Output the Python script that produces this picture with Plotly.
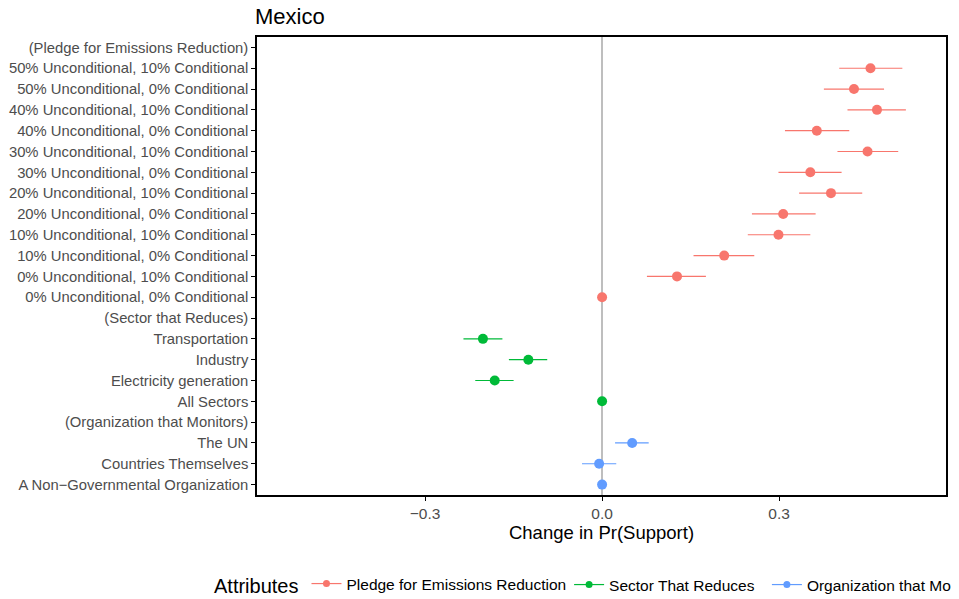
import plotly.graph_objects as go

# row labels, top to bottom
labels = [
    "(Pledge for Emissions Reduction)",
    "50% Unconditional, 10% Conditional",
    "50% Unconditional, 0% Conditional",
    "40% Unconditional, 10% Conditional",
    "40% Unconditional, 0% Conditional",
    "30% Unconditional, 10% Conditional",
    "30% Unconditional, 0% Conditional",
    "20% Unconditional, 10% Conditional",
    "20% Unconditional, 0% Conditional",
    "10% Unconditional, 10% Conditional",
    "10% Unconditional, 0% Conditional",
    "0% Unconditional, 10% Conditional",
    "0% Unconditional, 0% Conditional",
    "(Sector that Reduces)",
    "Transportation",
    "Industry",
    "Electricity generation",
    "All Sectors",
    "(Organization that Monitors)",
    "The UN",
    "Countries Themselves",
    "A Non\u2212Governmental Organization",
]

pledge_labels = labels[1:13]
pledge_est = [0.455, 0.427, 0.466, 0.364, 0.450, 0.353, 0.388, 0.307, 0.299, 0.207, 0.127, 0.0]
pledge_lo = [0.402, 0.376, 0.416, 0.310, 0.399, 0.299, 0.334, 0.254, 0.247, 0.155, 0.076, 0.0]
pledge_hi = [0.509, 0.478, 0.515, 0.419, 0.502, 0.406, 0.441, 0.362, 0.353, 0.258, 0.176, 0.0]

sector_labels = labels[14:18]
sector_est = [-0.202, -0.125, -0.182, 0.0]
sector_lo = [-0.235, -0.158, -0.215, 0.0]
sector_hi = [-0.169, -0.093, -0.150, 0.0]

org_labels = labels[19:22]
org_est = [0.051, -0.005, 0.0]
org_lo = [0.022, -0.034, 0.0]
org_hi = [0.079, 0.024, 0.0]

groups = [
    ("Pledge for Emissions Reduction", "#F8766D", pledge_labels, pledge_est, pledge_lo, pledge_hi),
    ("Sector That Reduces", "#00BA38", sector_labels, sector_est, sector_lo, sector_hi),
    ("Organization that Monitors", "#619CFF", org_labels, org_est, org_lo, org_hi),
]

FONT = "Liberation Sans, Arial, sans-serif"
# the page body adds an 8px margin, so the figure is 8px smaller each way
W, H = 951, 591

fig = go.Figure()

for name, color, ys, est, lo, hi in groups:
    fig.add_trace(go.Scatter(
        x=est, y=ys, mode="markers", name=name, showlegend=False,
        marker=dict(color=color, size=10),
        error_x=dict(type="data", symmetric=False,
                     array=[h - e for h, e in zip(hi, est)],
                     arrayminus=[e - l for e, l in zip(est, lo)],
                     color=color, thickness=1.2, width=0),
    ))

# legend keys (point with a line through it); one legend each so the row never wraps
legend_ids = ["legend", "legend2", "legend3"]
legend_x = [0.2145, 0.590, 0.798]
for (name, color, *_), lid in zip(groups, legend_ids):
    fig.add_trace(go.Scatter(
        x=[None], y=[None], mode="lines+markers", name=name, legend=lid,
        marker=dict(color=color, size=7), line=dict(color=color, width=1.2),
    ))

leg_common = dict(orientation="h", xref="container", yref="container",
                  xanchor="left", y=0.0237, yanchor="middle",
                  font=dict(size=15.5, color="black"), itemwidth=30,
                  bgcolor="rgba(0,0,0,0)")

fig.update_layout(
    width=W, height=H,
    plot_bgcolor="white", paper_bgcolor="white",
    margin=dict(l=249, r=13, t=29, b=104),
    font=dict(family=FONT, color="#4d4d4d", size=15.5),
    title=dict(text="Mexico", x=247 / W, xanchor="left", y=1 - 8 / H, yanchor="middle",
               font=dict(size=22, color="black", family=FONT)),
    legend=dict(x=legend_x[0], title=dict(text="Attributes", font=dict(size=20, color="black")),
                **leg_common),
    legend2=dict(x=legend_x[1], **leg_common),
    legend3=dict(x=legend_x[2], **leg_common),
)

fig.update_xaxes(
    range=[-0.585, 0.583], tickvals=[-0.3, 0, 0.3], tickformat=".1f",
    showgrid=False, zeroline=True, zerolinecolor="#bebebe", zerolinewidth=2,
    showline=True, mirror=True, linecolor="black", linewidth=1.5,
    ticks="outside", ticklen=4, tickcolor="black", automargin=False,
    tickfont=dict(size=15.5),
    title=dict(text="Change in Pr(Support)", font=dict(size=18.5, color="black"), standoff=4),
)
fig.update_yaxes(
    type="category", categoryorder="array", categoryarray=labels,
    range=[len(labels) - 0.5, -0.5], automargin=False,
    showgrid=False, showline=True, mirror=True, linecolor="black", linewidth=1.5,
    ticks="outside", ticklen=4, tickcolor="black", tickfont=dict(size=14.8),
)

fig.write_html("out.html")
